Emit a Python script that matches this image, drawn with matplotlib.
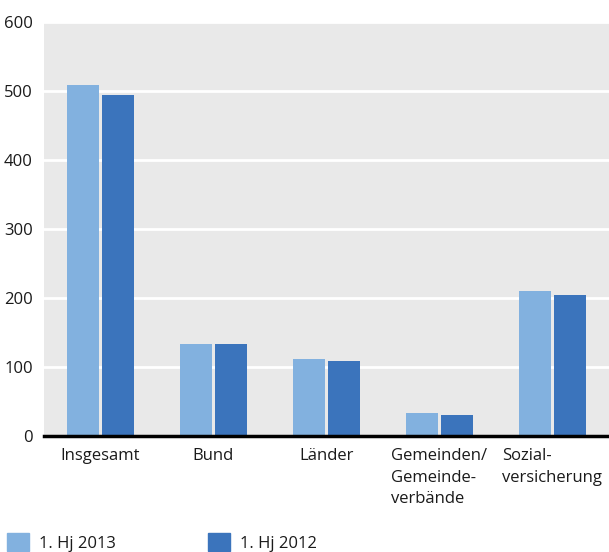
import matplotlib.pyplot as plt
import numpy as np

plt.rcParams['font.family'] = ['Open Sans', 'DejaVu Sans']

categories = ['Insgesamt', 'Bund', 'Länder', 'Gemeinden/\nGemeinde-\nverbände', 'Sozial-\nversicherung']
hj2013 = [508, 134, 112, 33, 210]
hj2012 = [494, 134, 108, 30, 204]
series_labels = ['1. Hj 2013', '1. Hj 2012']

light = '#82b1df'
dark = '#3b74bc'

fig = plt.figure(figsize=(6.09, 5.52), dpi=100)
ax = fig.add_axes([44 / 609, 1 - 436 / 552, 565 / 609, 414 / 552])

x = np.arange(len(categories))
w = 0.283
gap = 0.015
ax.bar(x - w / 2 - gap, hj2013, width=w, color=light, zorder=3)
ax.bar(x + w / 2 + gap, hj2012, width=w, color=dark, zorder=3)

ax.set_facecolor('#e9e9e9')
ax.set_xlim(-0.5, 4.5)
ax.set_ylim(0, 600)
ax.set_yticks([0, 100, 200, 300, 400, 500, 600])
ax.yaxis.grid(True, color='white', linewidth=2, zorder=1)
ax.set_axisbelow(True)
for s in ['top', 'right', 'left']:
    ax.spines[s].set_visible(False)
ax.spines['bottom'].set_linewidth(2.5)
ax.spines['bottom'].set_zorder(4)
ax.tick_params(axis='y', length=0, pad=8, labelsize=12, labelcolor='#1a1a1a')
ax.tick_params(axis='x', length=0, pad=9, labelsize=12, labelcolor='#1a1a1a')
ax.set_xticks(x)
ax.set_xticklabels(categories, va='top', ha='center', multialignment='left', linespacing=1.45)

# legend at the bottom
handles = [plt.Rectangle((0, 0), 1, 1, color=light), plt.Rectangle((0, 0), 1, 1, color=dark)]
leg = fig.legend(handles, series_labels, loc='lower left', bbox_to_anchor=(0.0, -0.012), ncol=2,
                 frameon=False, fontsize=12, handlelength=1.35, handleheight=1.3,
                 handletextpad=0.6, columnspacing=5.5, borderaxespad=0)
for t in leg.get_texts():
    t.set_color('#1a1a1a')

fig.savefig('out.png', dpi=100)
